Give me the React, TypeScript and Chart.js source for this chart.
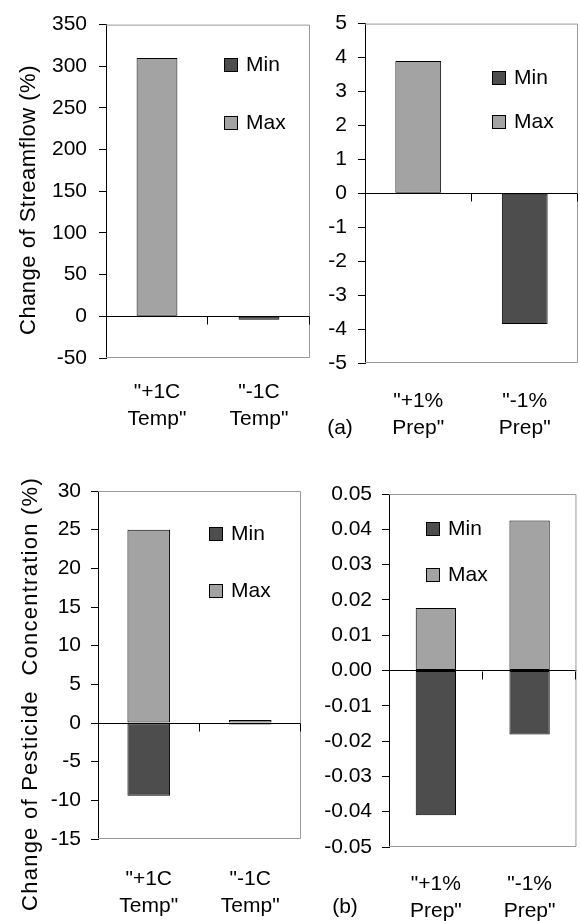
import { useEffect, useRef } from "react";
import { Chart, registerables } from "chart.js";

Chart.register(...registerables);

const FONT = '"Liberation Sans", Arial, Helvetica, sans-serif';

// ---------- data ----------
const seriesNames = ["Min", "Max"];
const tempCategories = [['"+1C', 'Temp"'], ['"-1C', 'Temp"']];
const prepCategories = [['"+1%', 'Prep"'], ['"-1%', 'Prep"']];

const streamTempMin = [0, -4];
const streamTempMax = [310, 0];
const streamPrepMin = [0, -3.85];
const streamPrepMax = [3.9, 0];
const pestTempMin = [-9.4, -0.2];
const pestTempMax = [25, 0.4];
const pestPrepMin = [-0.041, -0.0181];
const pestPrepMax = [0.0177, 0.0425];

const streamTempTicks = [-50, 0, 50, 100, 150, 200, 250, 300, 350];
const streamPrepTicks = [-5, -4, -3, -2, -1, 0, 1, 2, 3, 4, 5];
const pestTempTicks = [-15, -10, -5, 0, 5, 10, 15, 20, 25, 30];
const pestPrepTicks = [-0.05, -0.04, -0.03, -0.02, -0.01, 0, 0.01, 0.02, 0.03, 0.04, 0.05];

const titleStream = "Change of Streamflow (%)";
const titlePest = "Change of Pesticide  Concentration (%)";
const tagA = "(a)";
const tagB = "(b)";

const MIN_COLOR = "#4d4d4d";
const MAX_COLOR = "#a3a3a3";
const FRAME_COLOR = "#999999";

type Panel = {
  x: number; y: number; w: number; h: number;
  area: { left: number; top: number; right: number; bottom: number };
  categories: string[][];
  min: number[]; max: number[];
  ticks: number[]; decimals: number;
  barPct: number;
  yPad: number; xPad: number;
  legend: { x: number; top: number; gap: number };
  title?: { text: string; x: number; y: number; spacing: number };
  tag?: { text: string; x: number; y: number };
};

const panels: Panel[] = [
  {
    x: 0, y: 0, w: 312, h: 445,
    area: { left: 106, top: 24, right: 310, bottom: 358 },
    categories: tempCategories, min: streamTempMin, max: streamTempMax,
    ticks: streamTempTicks, decimals: 0, barPct: 0.4, yPad: 12, xPad: 21,
    legend: { x: 224, top: 58, gap: 58 },
    title: { text: titleStream, x: 29, y: 200, spacing: 0.5 },
  },
  {
    x: 312, y: 0, w: 268, h: 445,
    area: { left: 53, top: 22, right: 266, bottom: 363 },
    categories: prepCategories, min: streamPrepMin, max: streamPrepMax,
    ticks: streamPrepTicks, decimals: 0, barPct: 0.43, yPad: 11, xPad: 25,
    legend: { x: 180, top: 71, gap: 44 },
    tag: { text: tagA, x: 28, y: 428 },
  },
  {
    x: 0, y: 445, w: 312, h: 476,
    area: { left: 98, top: 46, right: 301, bottom: 394 },
    categories: tempCategories, min: pestTempMin, max: pestTempMax,
    ticks: pestTempTicks, decimals: 0, barPct: 0.42, yPad: 10, xPad: 27,
    legend: { x: 209, top: 82, gap: 57 },
    title: { text: titlePest, x: 31, y: 249, spacing: 1.25 },
  },
  {
    x: 312, y: 445, w: 268, h: 476,
    area: { left: 77, top: 49, right: 266, bottom: 402 },
    categories: prepCategories, min: pestPrepMin, max: pestPrepMax,
    ticks: pestPrepTicks, decimals: 2, barPct: 0.43, yPad: 10, xPad: 24,
    legend: { x: 114, top: 77, gap: 46 },
    tag: { text: tagB, x: 33, y: 462 },
  },
];

const decorPlugin = {
  id: "decor",
  beforeDatasetsDraw(chart: any) {
    const { ctx, chartArea: a } = chart;
    ctx.save();
    ctx.strokeStyle = FRAME_COLOR;
    ctx.lineWidth = 1;
    ctx.beginPath();
    ctx.moveTo(a.left, a.top + 0.5);
    ctx.lineTo(a.right - 0.5, a.top + 0.5);
    ctx.lineTo(a.right - 0.5, a.bottom - 0.5);
    ctx.lineTo(a.left, a.bottom - 0.5);
    ctx.stroke();
    ctx.restore();
  },
  afterDatasetsDraw(chart: any, _args: any, opts: any) {
    const { ctx } = chart;
    const xs = chart.scales.x;
    const ys = chart.scales.y;
    const zeroY = Math.round(ys.getPixelForValue(0)) + 0.5;
    const n = chart.data.labels.length;
    const cw = (xs.right - xs.left) / n;
    ctx.save();
    ctx.strokeStyle = "#000";
    ctx.lineWidth = 1;
    for (let i = 1; i <= n; i++) {
      const x = Math.round(xs.left + i * cw) - 0.5;
      ctx.beginPath();
      ctx.moveTo(x, zeroY);
      ctx.lineTo(x, zeroY + 8);
      ctx.stroke();
    }
    // legend
    const lg = opts.legend;
    ctx.font = `21px ${FONT}`;
    ctx.textBaseline = "middle";
    ctx.textAlign = "left";
    chart.data.datasets.forEach((ds: any, i: number) => {
      const top = lg.top + i * lg.gap;
      ctx.fillStyle = ds.backgroundColor;
      ctx.fillRect(lg.x, top, 14, 14);
      ctx.strokeStyle = "#000";
      ctx.strokeRect(lg.x + 0.5, top + 0.5, 13, 13);
      ctx.fillStyle = "#000";
      ctx.fillText(ds.label, lg.x + 22, top + 7.5);
    });
    if (opts.title) {
      const t = opts.title;
      ctx.save();
      ctx.translate(t.x, t.y);
      ctx.rotate(-Math.PI / 2);
      ctx.font = `22px ${FONT}`;
      (ctx as any).letterSpacing = `${t.spacing}px`;
      ctx.textAlign = "center";
      ctx.textBaseline = "middle";
      ctx.fillStyle = "#000";
      ctx.fillText(t.text, 0, 0);
      ctx.restore();
    }
    if (opts.tag) {
      ctx.textAlign = "center";
      ctx.textBaseline = "middle";
      ctx.fillStyle = "#000";
      ctx.fillText(opts.tag.text, opts.tag.x, opts.tag.y);
    }
    ctx.restore();
  },
};

function makeConfig(p: Panel): any {
  const font = { family: FONT, size: 21 };
  return {
    type: "bar",
    data: {
      labels: p.categories,
      datasets: [
        {
          label: seriesNames[0], data: p.min, backgroundColor: MIN_COLOR,
          borderColor: "#000", borderWidth: 1, borderSkipped: false,
        },
        {
          label: seriesNames[1], data: p.max, backgroundColor: MAX_COLOR,
          borderColor: "#000", borderWidth: 1, borderSkipped: false,
        },
      ],
    },
    plugins: [decorPlugin],
    options: {
      responsive: false,
      animation: false,
      devicePixelRatio: 1,
      categoryPercentage: 1,
      barPercentage: p.barPct,
      layout: { padding: { left: 0, top: p.area.top, right: p.w - p.area.right, bottom: 0 } },
      plugins: {
        legend: { display: false },
        tooltip: { enabled: false },
        title: { display: false },
        decor: { legend: p.legend, title: p.title, tag: p.tag },
      },
      scales: {
        x: {
          type: "category",
          stacked: true,
          offset: true,
          grid: { display: false, drawTicks: false },
          border: { display: false },
          ticks: {
            font: { ...font, lineHeight: "27px" },
            color: "#000",
            padding: p.xPad,
            maxRotation: 0,
            minRotation: 0,
            autoSkip: false,
          },
          afterFit: (s: any) => { s.height = p.h - p.area.bottom; },
        },
        y: {
          type: "linear",
          stacked: true,
          min: p.ticks[0],
          max: p.ticks[p.ticks.length - 1],
          afterBuildTicks: (s: any) => { s.ticks = p.ticks.map((v) => ({ value: v })); },
          grid: {
            drawOnChartArea: true,
            drawTicks: true,
            tickLength: 7,
            tickColor: "#000",
            lineWidth: 1,
            color: (c: any) => (c.tick && c.tick.value === 0 ? "#000" : "rgba(0,0,0,0)"),
          },
          border: { display: true, color: "#000", width: 1 },
          ticks: {
            font,
            color: "#000",
            padding: p.yPad,
            autoSkip: false,
            callback: (v: any) => Number(v).toFixed(p.decimals),
          },
          afterFit: (s: any) => { s.width = p.area.left; },
        },
      },
    },
  };
}

function PanelChart({ p }: { p: Panel }) {
  const ref = useRef<HTMLCanvasElement>(null);
  useEffect(() => {
    const chart = new Chart(ref.current as HTMLCanvasElement, makeConfig(p));
    return () => chart.destroy();
  }, []);
  return (
    <canvas
      ref={ref}
      width={p.w}
      height={p.h}
      style={{ position: "absolute", left: p.x, top: p.y, width: p.w, height: p.h, display: "block" }}
    />
  );
}

export default function App() {
  return (
    <div style={{ position: "absolute", left: 0, top: 0, width: 580, height: 921, background: "#fff", overflow: "hidden" }}>
      {panels.map((p, i) => (
        <PanelChart key={i} p={p} />
      ))}
    </div>
  );
}
